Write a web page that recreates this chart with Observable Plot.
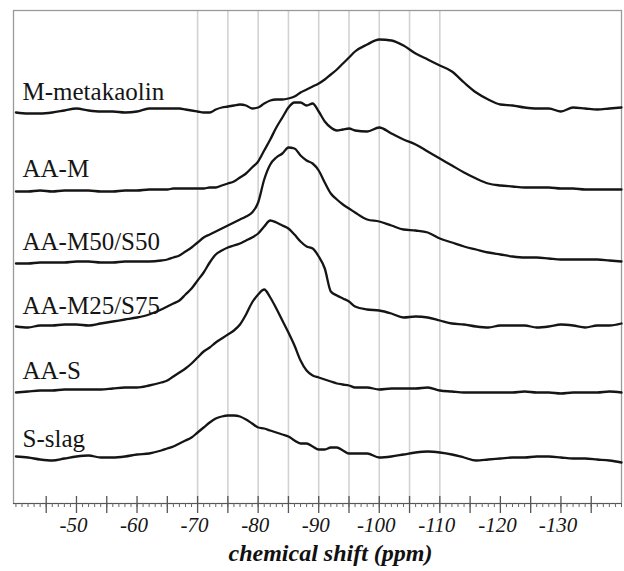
<!DOCTYPE html>
<html>
<head>
<meta charset="utf-8">
<script src="https://cdn.jsdelivr.net/npm/d3@7"></script>
<script src="https://cdn.jsdelivr.net/npm/@observablehq/plot@0.6"></script>
<style>
  html, body { margin: 0; padding: 0; background: #fff; overflow: hidden; }
  #chart svg { display: block; }
</style>
</head>
<body>
<div id="chart"></div>
<script>
// chemical shift sample positions (ppm)
const ppm = [-40,-42,-44,-46,-48,-50,-52,-54,-56,-58,-60,-62,-64,
  -65,-66,-67,-68,-69,-70,-71,-72,-73,-74,-75,-76,-77,-78,-79,-80,-81,-82,-83,-84,-85,-86,-87,-88,-89,-90,-91,-92,-93,-94,-95,-96,
  -98,-100,-102,-104,-106,-108,-110,-112,-114,-116,-118,-120,-122,-124,-126,-128,-130,-132,-134,-136,-138,-140];

// relative intensities (arbitrary units)
const mMetakaolin = [1,0,0,1,3,5,3,2,2,1,2,5,5,
  5,5,5,4,3,2,1,1,4,6,7,8,9,8,5,6,10,13,14,14,15,17,21,24,27,30,34,39,44,50,56,62,
  69,74,73,68,60,54,48,42,31,21,14,9,8,6,5,5,2,6,5,4,5,6];
const aaM = [-1,-1,0,-1,0,0,0,-1,-1,0,0,1,1,
  1,2,2,2,2,2,2,3,3,5,7,9,13,17,23,29,40,51,63,73,83,88,88,85,87,79,69,63,60,61,62,60,
  59,63,57,51,46,39,32,25,18,12,7,5,4,3,3,3,2,2,1,1,1,1];
const aaM50S50 = [0,0,1,1,1,2,2,1,1,2,2,2,3,
  4,6,8,12,16,21,26,29,32,35,38,41,44,47,51,61,84,99,106,110,116,115,108,103,100,93,81,70,64,59,55,51,
  44,42,38,34,33,31,25,21,17,14,11,9,7,6,6,5,4,4,4,4,3,2];
const aaM25S75 = [1,0,2,2,3,3,2,4,6,8,10,13,18,
  21,24,27,33,39,47,55,65,73,77,80,82,84,87,90,94,101,107,105,102,99,93,86,81,79,71,59,36,32,29,26,21,
  18,17,14,10,11,10,7,4,3,1,0,2,2,2,0,1,3,2,0,2,2,4];
const aaS = [0,1,2,2,3,3,3,3,4,5,5,7,10,
  12,16,20,24,29,35,41,45,50,54,58,62,68,78,90,98,103,95,84,72,60,47,32,22,17,15,13,11,9,8,7,5,
  5,3,4,4,4,5,2,1,0,0,0,0,0,1,0,0,-1,0,0,0,1,0];
const sSlag = [4,3,1,0,2,4,5,3,3,4,6,7,10,
  12,14,17,20,23,28,33,38,42,44,45,45,44,41,37,33,32,30,28,26,24,20,17,17,14,11,11,13,13,10,7,7,
  7,3,4,6,8,9,8,6,3,0,1,2,3,3,4,4,3,2,2,1,0,-2];

const seriesNames = ["M-metakaolin", "AA-M", "AA-M50/S50", "AA-M25/S75", "AA-S", "S-slag"];
const seriesValues = [mMetakaolin, aaM, aaM50S50, aaM25S75, aaS, sSlag];

// axis ticks and reference lines (ppm)
const gridPpm = [-70, -75, -80, -85, -90, -95, -100, -105, -110];
const tickLabels = [-50, -60, -70, -80, -90, -100, -110, -120, -130];
const majorTicks = d3.range(-45, -136, -5);
const minorTicks = d3.range(-40, -141, -1);

// vertical stacking offsets of the spectra
const offsets = [390, 313, 240, 176, 111, 43];

const rows = seriesNames.flatMap((name, i) =>
  ppm.map((p, j) => ({name, ppm: p, y: offsets[i] + seriesValues[i][j]})));

const serif = "'Liberation Serif', 'Times New Roman', serif";

const chart = Plot.plot({
  width: 624,
  height: 571,
  marginTop: 10,
  marginLeft: 13,
  marginRight: 3,
  marginBottom: 68,
  x: {domain: [-39.6, -140]},
  y: {domain: [0, 493], axis: null},
  style: {background: "#fff", fontFamily: serif, color: "#111"},
  marks: [
    Plot.ruleX(gridPpm, {stroke: "#d2d2d2", strokeWidth: 1.6}),
    Plot.frame({stroke: "#9a9a9a", strokeWidth: 1.3}),
    Plot.line(rows, {x: "ppm", y: "y", z: "name", stroke: "#151515", strokeWidth: 2.3, curve: "monotone-x"}),
    Plot.text(seriesNames, {
      frameAnchor: "left", y: (d, i) => offsets[i] + 22, dx: 9,
      text: d => d, textAnchor: "start", fontSize: 25, fontFamily: serif, fill: "#151515"
    }),
    Plot.ruleY([0], {stroke: "#555", strokeWidth: 1.2}),
    Plot.tickX(minorTicks, {x: d => d, insetTop: 493, insetBottom: -4, stroke: "#666", strokeWidth: 1}),
    Plot.tickX(majorTicks, {x: d => d, insetTop: 486, insetBottom: -10, stroke: "#555", strokeWidth: 1.3}),
    Plot.axisX(tickLabels, {
      tickSize: 0, tickPadding: 14, fontSize: 21, fontStyle: "italic", fontFamily: serif,
      tickFormat: d => String(d), label: null, dx: -3, fill: "#151515"
    }),
    Plot.text(["chemical shift (ppm)"], {
      frameAnchor: "bottom", dx: 13, dy: 57, text: d => d,
      fontSize: 24, fontWeight: "bold", fontStyle: "italic", fontFamily: serif, fill: "#111"
    })
  ]
});

document.getElementById("chart").appendChild(chart);
</script>
</body>
</html>
